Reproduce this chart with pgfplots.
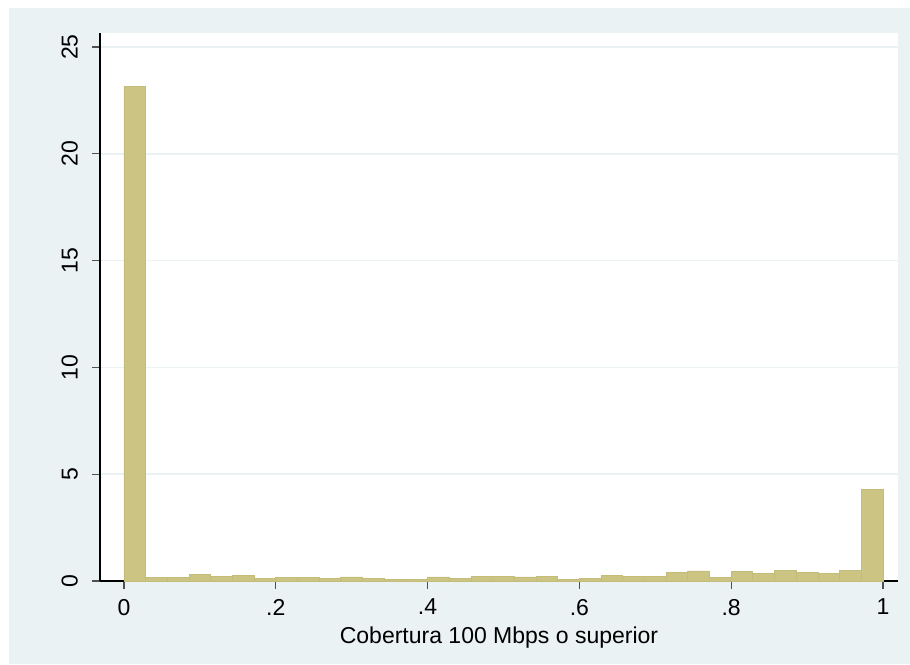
\documentclass[border=0pt]{standalone}
\usepackage{pgfplots}
\pgfplotsset{compat=1.18}
\usepackage{fontspec}
\setmainfont{Liberation Sans}
\definecolor{statabg}{RGB}{234,242,243}
\definecolor{barfill}{RGB}{204,196,130}
\definecolor{baredge}{RGB}{196,188,122}
\definecolor{tickgray}{RGB}{80,80,80}
\begin{document}
\begin{tikzpicture}
\useasboundingbox (0,0) rectangle (455pt,332pt);
\fill[white] (0,0) rectangle (455pt,332pt);
\fill[statabg] (4.5pt,0) rectangle (455pt,328pt);
\begin{axis}[
  at={(50pt,41.5pt)}, anchor=south west,
  scale only axis, width=399pt, height=274pt,
  xmin=-0.0316, xmax=1.0198, ymin=0, ymax=25.66,
  axis background/.style={fill=white},
  axis x line*=bottom, axis y line*=left,
  axis line style={black, line width=0.6pt},
  xtick={0,0.2,0.4,0.6,0.8,1}, xticklabels={0,.2,.4,.6,.8,1},
  ytick={0,5,10,15,20,25},
  tick align=outside, major tick length=4pt,
  tick style={tickgray, line width=0.6pt},
  ymajorgrids, grid style={statabg, line width=0.8pt},
  /pgf/number format/assume math mode=true,
  ticklabel style={font=\fontsize{11.5}{13}\selectfont},
  yticklabel style={rotate=90, anchor=south, yshift=3.5pt},
  xticklabel style={yshift=-1.5pt},
  xlabel={Cobertura 100 Mbps o superior},
  xlabel style={font=\fontsize{11.5}{13}\selectfont, yshift=1pt},
  clip=false,
]
\addplot[ybar interval, fill=barfill, draw=baredge, line width=0.4pt] coordinates {
(0,23.16) (0.028571,0.16) (0.057143,0.16) (0.085714,0.31) (0.114286,0.20)
(0.142857,0.27) (0.171429,0.12) (0.2,0.17) (0.228571,0.17) (0.257143,0.12)
(0.285714,0.19) (0.314286,0.12) (0.342857,0.09) (0.371429,0.09) (0.4,0.19)
(0.428571,0.12) (0.457143,0.20) (0.485714,0.23) (0.514286,0.19) (0.542857,0.23)
(0.571429,0.09) (0.6,0.12) (0.628571,0.28) (0.657143,0.23) (0.685714,0.23)
(0.714286,0.42) (0.742857,0.47) (0.771429,0.16) (0.8,0.44) (0.828571,0.37)
(0.857143,0.48) (0.885714,0.39) (0.914286,0.36) (0.942857,0.48) (0.971429,4.29)
(1,4.29)
};
\end{axis}
\end{tikzpicture}
\end{document}
